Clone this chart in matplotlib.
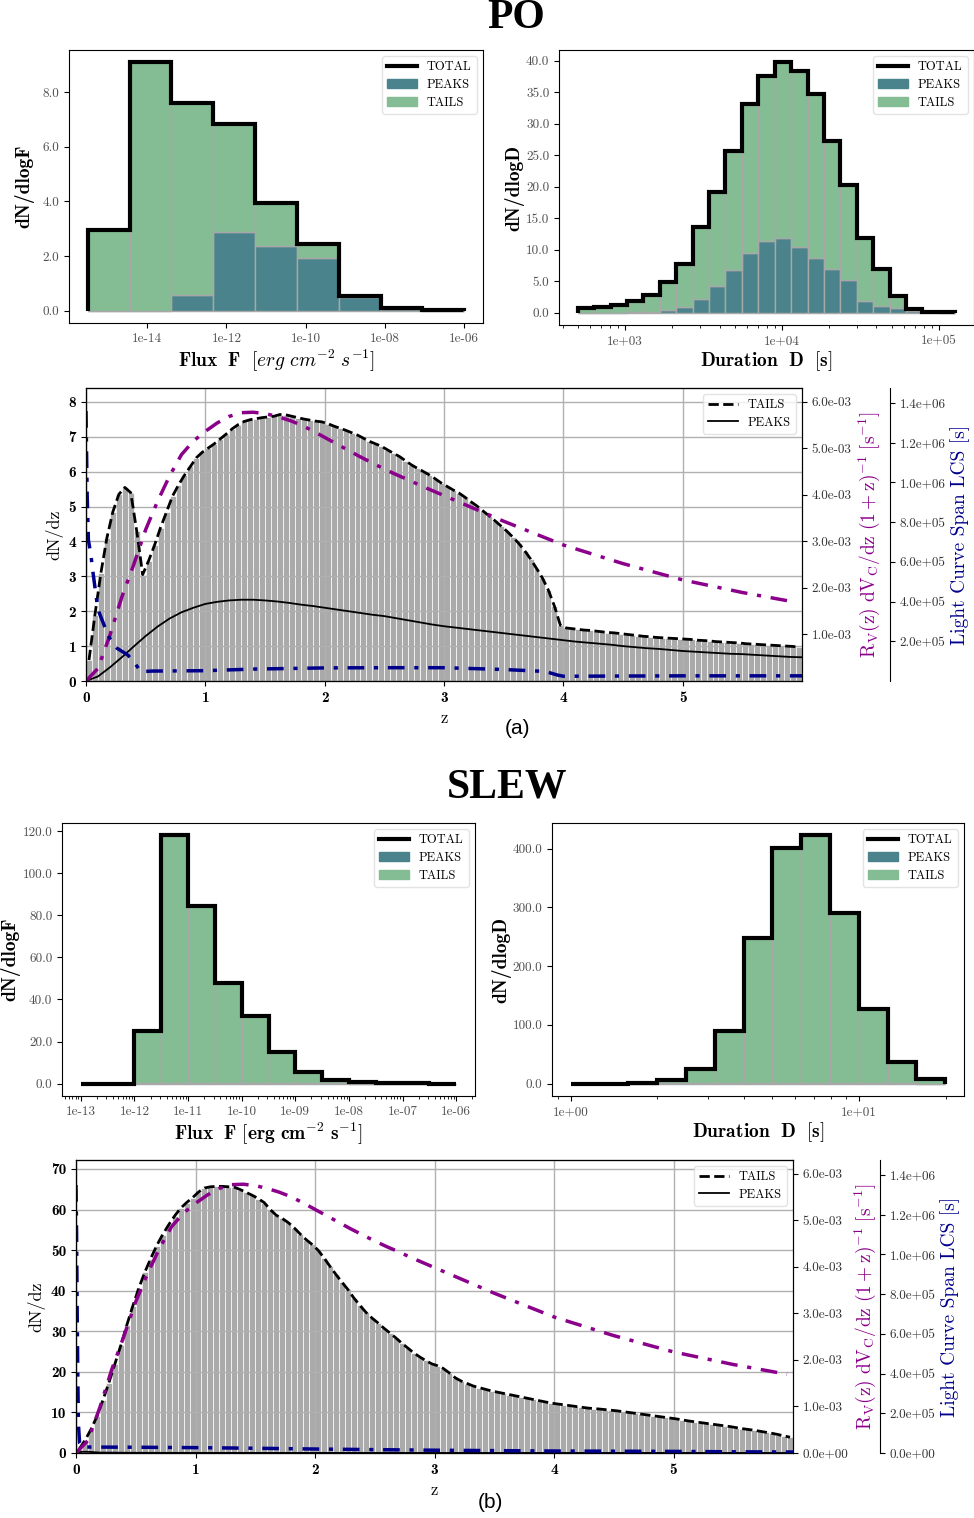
import numpy as np
import matplotlib
matplotlib.use('Agg')
import matplotlib.pyplot as plt
from matplotlib.ticker import FixedLocator, FuncFormatter, LogLocator, NullLocator, NullFormatter
from matplotlib.patches import Patch
from matplotlib.lines import Line2D

plt.rcParams['font.family'] = ['cmr10', 'DejaVu Serif']
plt.rcParams['mathtext.fontset'] = 'cm'
plt.rcParams['axes.unicode_minus'] = False
plt.rcParams['axes.formatter.use_mathtext'] = True

# ---------------- DATA ----------------
# PO flux histogram (log10 F bin edges)
po_flux_edges_log = np.linspace(-15.5, -6.0, 10)
po_flux_total = [2.95, 9.09, 7.60, 6.84, 3.94, 2.44, 0.55, 0.10, 0.01]
po_flux_peaks = [0.0, 0.0, 0.57, 2.89, 2.38, 1.94, 0.50, 0.06, 0.0]

# PO duration histogram (log10 D bin edges)
po_dur_edges_log = np.linspace(2.698, 5.104, 24)
po_dur_total = [0.64, 0.85, 1.27, 1.90, 2.80, 4.77, 7.68, 13.5, 19.07, 25.6, 33.1, 37.5,
                39.7, 38.3, 34.75, 27.3, 20.3, 11.87, 6.83, 2.60, 0.48, 0.05, 0.02]
po_dur_peaks = [0.0, 0.0, 0.0, 0.05, 0.10, 0.37, 0.80, 2.22, 4.24, 6.73, 9.38, 11.39,
                11.87, 10.33, 8.58, 6.89, 5.14, 1.90, 1.11, 0.64, 0.21, 0.02, 0.0]

# SLEW flux histogram
slew_flux_edges_log = np.linspace(-13.0, -6.0, 15)
slew_flux_total = [0.0, 0.0, 24.9, 118.0, 84.5, 47.7, 31.9, 15.1, 5.5, 1.7, 0.9, 0.5, 0.1, 0.0]
slew_flux_peaks = [0.0, 0.0, 0.3, 0.4, 0.4, 0.3, 0.3, 0.2, 0.2, 0.1, 0.0, 0.0, 0.0, 0.0]

# SLEW duration histogram
slew_dur_edges_log = np.linspace(0.0, 1.3, 14)
slew_dur_total = [0.0, 0.0, 1.7, 5.6, 24.3, 90.4, 247.5, 401.7, 422.6, 291.0, 127.0, 37.3, 8.5]
slew_dur_peaks = [0.0, 0.0, 0.0, 0.5, 0.5, 0.6, 0.6, 0.6, 0.6, 0.5, 0.3, 0.2, 0.0]

# redshift bins
z_edges = np.linspace(0.0, 6.0, 121)

# PO dN/dz (tails)
po_tails_dndz = [
    0.6, 1.9, 3.1, 4.1, 4.85, 5.35, 5.55, 5.4, 4.3, 3.05,
    3.45, 3.9, 4.4, 4.85, 5.3, 5.62, 5.9, 6.15, 6.4, 6.56,
    6.68, 6.8, 6.94, 7.08, 7.23, 7.35, 7.44, 7.49, 7.52, 7.55,
    7.57, 7.59, 7.64, 7.63, 7.59, 7.55, 7.51, 7.48, 7.45, 7.43,
    7.38, 7.31, 7.25, 7.19, 7.12, 7.05, 6.96, 6.87, 6.8, 6.73,
    6.63, 6.53, 6.44, 6.32, 6.2, 6.1, 6.01, 5.91, 5.8, 5.68,
    5.58, 5.48, 5.39, 5.27, 5.14, 5.02, 4.88, 4.74, 4.6, 4.45,
    4.3, 4.13, 3.95, 3.74, 3.5, 3.23, 2.95, 2.6, 2.15, 1.6,
    1.52, 1.5, 1.48, 1.46, 1.45, 1.43, 1.41, 1.39, 1.38, 1.36,
    1.34, 1.32, 1.3, 1.28, 1.27, 1.25, 1.24, 1.23, 1.22, 1.21,
    1.2, 1.19, 1.17, 1.16, 1.15, 1.13, 1.12, 1.11, 1.1, 1.09,
    1.07, 1.06, 1.05, 1.04, 1.03, 1.02, 1.01, 1.0, 0.99, 0.97]

# PO peaks dN/dz curve
po_peaks_z = [0.0, 0.1, 0.2, 0.3, 0.4, 0.5, 0.6, 0.7, 0.8, 0.9, 1.0, 1.1, 1.2, 1.3, 1.4, 1.5,
              1.6, 1.7, 1.8, 1.9, 2.0, 2.1, 2.2, 2.3, 2.4, 2.5, 2.6, 2.7, 2.8, 2.9, 3.0,
              3.1, 3.2, 3.3, 3.4, 3.5, 3.6, 3.7, 3.8, 3.9, 4.0, 4.1, 4.2, 4.3, 4.4, 4.5,
              4.6, 4.7, 4.8, 4.9, 5.0, 5.1, 5.2, 5.3, 5.4, 5.5, 5.6, 5.7, 5.8, 5.9, 6.0]
po_peaks_dndz = [0.00, 0.13, 0.39, 0.68, 0.99, 1.29, 1.56, 1.79, 1.97, 2.10, 2.21, 2.27, 2.31,
                 2.33, 2.33, 2.31, 2.28, 2.24, 2.19, 2.15, 2.10, 2.05, 2.00, 1.95, 1.90, 1.86,
                 1.80, 1.74, 1.68, 1.62, 1.57, 1.53, 1.49, 1.45, 1.41, 1.37, 1.33, 1.29, 1.25,
                 1.21, 1.17, 1.13, 1.10, 1.07, 1.04, 1.00, 0.97, 0.94, 0.92, 0.89, 0.86, 0.84,
                 0.82, 0.80, 0.78, 0.77, 0.75, 0.73, 0.71, 0.69, 0.68]

# Rv(z) dVc/dz (1+z)^-1  [1e-3 s^-1]
rv_z = [0.0, 0.1, 0.2, 0.3, 0.4, 0.5, 0.6, 0.7, 0.8, 0.9, 1.0, 1.1, 1.2, 1.3, 1.4, 1.5,
        1.6, 1.7, 1.8, 1.9, 2.0, 2.1, 2.2, 2.3, 2.4, 2.5, 2.6, 2.7, 2.8, 2.9, 3.0,
        3.5, 4.0, 4.5, 5.0, 5.5, 5.95]
rv_val_e3 = [0.00, 0.27, 0.98, 1.80, 2.50, 3.25, 3.86, 4.40, 4.86, 5.15, 5.36, 5.54, 5.68,
             5.76, 5.77, 5.74, 5.68, 5.60, 5.50, 5.37, 5.23, 5.09, 4.95, 4.81, 4.68, 4.55,
             4.43, 4.32, 4.20, 4.09, 3.98, 3.43, 2.92, 2.52, 2.17, 1.90, 1.69]

# PO light curve span
po_lcs_z = [0.0, 0.01, 0.02, 0.04, 0.06, 0.10, 0.19, 0.26, 0.35, 0.40, 0.46,
            0.55, 1.0, 1.4, 2.0, 2.5, 3.0, 3.5, 3.85, 3.95, 4.0, 4.5, 5.0, 5.5, 6.0]
po_lcs = [1.36e6, 9.3e5, 7.1e5, 6.4e5, 5.4e5, 3.6e5, 2.23e5, 1.65e5, 1.31e5, 9.7e4, 4.7e4,
          5.0e4, 5.2e4, 6.0e4, 6.6e4, 6.7e4, 6.7e4, 5.8e4, 4.8e4, 3.0e4,
          2.4e4, 2.5e4, 2.6e4, 2.6e4, 2.6e4]

# SLEW dN/dz (tails)
slew_tails_dndz = [
    0.9, 3.1, 5.8, 9.0, 13.0, 17.3, 21.9, 26.5, 31.5, 36.2,
    40.6, 44.5, 47.9, 51.1, 53.8, 56.2, 58.4, 60.3, 61.7, 62.9,
    64.3, 65.3, 65.6, 65.7, 65.7, 65.6, 65.5, 64.9, 64.2, 63.5,
    62.7, 61.7, 60.0, 58.6, 57.8, 56.8, 55.5, 54.0, 52.6, 51.4,
    50.0, 48.1, 46.0, 44.0, 42.1, 40.3, 38.2, 36.4, 34.7, 33.3,
    32.1, 30.8, 29.6, 28.4, 27.1, 25.9, 24.7, 23.7, 22.8, 22.0,
    21.5, 20.8, 19.7, 18.5, 17.7, 17.1, 16.5, 16.1, 15.7, 15.3,
    15.0, 14.7, 14.4, 14.1, 13.8, 13.5, 13.2, 12.9, 12.6, 12.3,
    12.1, 11.9, 11.7, 11.5, 11.3, 11.1, 10.95, 10.85, 10.7, 10.55,
    10.4, 10.2, 10.0, 9.8, 9.6, 9.4, 9.2, 9.0, 8.8, 8.6,
    8.4, 8.15, 7.9, 7.7, 7.5, 7.3, 7.1, 6.9, 6.7, 6.5,
    6.25, 6.0, 5.8, 5.6, 5.35, 5.1, 4.85, 4.55, 4.2, 3.9]

slew_peaks_z = [0.0, 0.05, 0.1, 0.15, 0.2, 0.5, 1.0, 2.0, 3.0, 4.0, 5.0, 6.0]
slew_peaks_dndz = [0.0, 0.3, 0.3, 0.2, 0.1, 0.05, 0.03, 0.02, 0.01, 0.01, 0.01, 0.0]

slew_lcs_z = [0.0, 0.005, 0.01, 0.015, 0.02, 0.03, 0.05, 0.1, 0.5, 1.0, 1.5, 2.0, 2.5, 3.0,
              3.5, 4.0, 4.5, 5.0, 5.5, 6.0]
slew_lcs = [1.35e6, 1.1e6, 7e5, 4e5, 1.5e5, 5e4, 3.0e4, 3.0e4, 2.9e4, 2.7e4, 2.4e4, 2.0e4,
            1.7e4, 1.4e4, 1.2e4, 1.0e4, 0.9e4, 0.8e4, 0.6e4, 0.5e4]

# ---------------- STYLE ----------------
C_PEAK = '#4a838c'
C_TAIL = '#84bd93'
C_EDGE = '#a8a8a8'
C_PURPLE = '#8b008b'
C_NAVY = '#00008b'
TICKGREY = '#505050'
DASHDOT = (0, (4.8, 2.8, 1.2, 2.8))

W, H = 974, 1518
fig = plt.figure(figsize=(W / 100, H / 100), dpi=100)


def px_axes(left, top, right, bottom):
    return fig.add_axes([left / W, 1 - bottom / H, (right - left) / W, (bottom - top) / H])


exp_fmt = FuncFormatter(lambda v, p: f"{v:.0e}")


def hist_panel(ax, edges_log, total, peaks, major_exps, minor, ylabel, xlabel, yticks,
               ylabelpad=4.0):
    edges_log = np.asarray(edges_log)
    edges = 10.0 ** edges_log
    total = np.asarray(total)
    peaks = np.asarray(peaks)
    tails = np.clip(total - peaks, 0, None)
    left = edges[:-1]
    width = np.diff(edges)
    ax.bar(left, peaks, width=width, align='edge', color=C_PEAK, edgecolor=C_EDGE, linewidth=1.0)
    ax.bar(left, tails, width=width, bottom=peaks, align='edge', color=C_TAIL,
           edgecolor=C_EDGE, linewidth=1.0)
    ax.stairs(total, edges, color='k', linewidth=3.0)
    ax.set_xscale('log')
    lo, hi = edges_log[0], edges_log[-1]
    pad = 0.05 * (hi - lo)
    ax.set_xlim(10 ** (lo - pad), 10 ** (hi + pad))
    ym = total.max()
    ax.set_ylim(-0.05 * ym, 1.05 * ym)
    ax.xaxis.set_major_locator(FixedLocator([10.0 ** e for e in major_exps]))
    ax.xaxis.set_major_formatter(exp_fmt)
    if minor:
        ax.xaxis.set_minor_locator(LogLocator(base=10, subs=np.arange(2, 10), numticks=50))
    else:
        ax.xaxis.set_minor_locator(NullLocator())
    ax.xaxis.set_minor_formatter(NullFormatter())
    ax.set_yticks(yticks)
    ax.yaxis.set_major_formatter(FuncFormatter(lambda v, p: f"{v:.1f}"))
    ax.tick_params(labelsize=9.5, labelcolor=TICKGREY)
    ax.set_ylabel(ylabel, fontfamily='cmb10', fontsize=14, labelpad=ylabelpad)
    ax.set_xlabel(xlabel, fontsize=14, labelpad=2)
    handles = [Line2D([], [], color='k', lw=3), Patch(color=C_PEAK), Patch(color=C_TAIL)]
    ax.legend(handles, ['TOTAL', 'PEAKS', 'TAILS'], loc='upper right', fontsize=9,
              handlelength=2.4, borderpad=0.4, labelspacing=0.45, edgecolor='#dddddd')


def z_panel(ax, tails, pk_z, pk_v, lcs_z, lcs_v, ymax, yticks, rv_ticks, lcs_ticks, outward):
    tails = np.asarray(tails)
    centres = 0.5 * (z_edges[:-1] + z_edges[1:])
    ax.bar(z_edges[:-1], tails, width=np.diff(z_edges), align='edge', color='#aaaaaa',
           edgecolor='white', linewidth=0.5, zorder=1)
    ax.plot(centres, tails, color='k', linestyle='--', linewidth=2.0, label='TAILS', zorder=3)
    ax.plot(pk_z, pk_v, color='k', lw=1.3, label='PEAKS', zorder=3)
    ax.set_xlim(0, 6)
    ax.set_ylim(0, ymax)
    ax.grid(True, color='#b0b0b0', lw=1.0)
    ax.set_xticks(range(6), [str(i) for i in range(6)], fontfamily='cmb10', fontsize=11)
    ax.set_yticks(yticks, [str(v) for v in yticks], fontfamily='cmb10', fontsize=11)
    ax.set_xlabel('z', fontsize=12, labelpad=4)
    ax.set_ylabel('dN/dz', fontsize=13)
    ax.legend(loc='upper right', fontsize=9, handlelength=2.4, borderpad=0.4,
              labelspacing=0.4, edgecolor='#dddddd')

    ax2 = ax.twinx()
    ax2.plot(rv_z, np.asarray(rv_val_e3) * 1e-3, color=C_PURPLE, lw=2.5, linestyle=DASHDOT)
    ax2.set_ylim(0, 6.29e-3)
    ax2.set_yticks(rv_ticks)
    ax2.yaxis.set_major_formatter(FuncFormatter(lambda v, p: f"{v:.1e}"))
    ax2.tick_params(labelsize=9.5, labelcolor='#333333')
    ax2.set_ylabel(r'$\mathrm{R_V(z)\ dV_C/dz\ (1+z)^{-1}\ [s^{-1}]}$', color=C_PURPLE,
                   fontsize=14, labelpad=3)

    ax3 = ax.twinx()
    ax3.spines['right'].set_position(('outward', outward))
    ax3.plot(lcs_z, lcs_v, color=C_NAVY, lw=2.5, linestyle=DASHDOT)
    ax3.set_ylim(0, 1.476e6)
    ax3.set_yticks(lcs_ticks)
    ax3.yaxis.set_major_formatter(FuncFormatter(lambda v, p: f"{v:.1e}"))
    ax3.tick_params(labelsize=9.5, labelcolor='#333333')
    ax3.set_ylabel('Light Curve Span LCS [s]', color=C_NAVY, fontsize=14, labelpad=3)
    ax3.set_xlim(0, 6)
    ax2.set_xlim(0, 6)


# ---------------- PO ----------------
fig.text(516 / W, 1 - 18 / H, 'PO', ha='center', va='center', fontsize=30,
         fontfamily='Liberation Serif', fontweight='bold')

ax = px_axes(69, 50, 483, 323)
hist_panel(ax, po_flux_edges_log, po_flux_total, po_flux_peaks, [-14, -12, -10, -8, -6], False,
           'dN/dlogF', r'$\mathbf{Flux\ \ F}\ \ [erg\ cm^{-2}\ s^{-1}]$', [0, 2, 4, 6, 8],
           ylabelpad=6)

ax = px_axes(559, 50, 974, 325)
hist_panel(ax, po_dur_edges_log, po_dur_total, po_dur_peaks, [3, 4, 5], True,
           'dN/dlogD', r'$\mathbf{Duration\ \ D\ \ [s]}$', [0, 5, 10, 15, 20, 25, 30, 35, 40],
           ylabelpad=1)

ax = px_axes(86, 388, 802, 681)
z_panel(ax, po_tails_dndz, po_peaks_z, po_peaks_dndz, po_lcs_z, po_lcs, 8.4,
        list(range(0, 9)), [1e-3, 2e-3, 3e-3, 4e-3, 5e-3, 6e-3],
        [2e5, 4e5, 6e5, 8e5, 1e6, 1.2e6, 1.4e6], 88 * 0.72)

fig.text(518 / W, 1 - 729 / H, '(a)', ha='center', va='center', fontsize=15,
         fontfamily='Liberation Sans')

# ---------------- SLEW ----------------
fig.text(507 / W, 1 - 788 / H, 'SLEW', ha='center', va='center', fontsize=30,
         fontfamily='Liberation Serif', fontweight='bold')

ax = px_axes(62, 823, 475, 1096)
hist_panel(ax, slew_flux_edges_log, slew_flux_total, slew_flux_peaks,
           [-13, -12, -11, -10, -9, -8, -7, -6], True,
           'dN/dlogF', r'$\mathbf{Flux\ \ F\ [erg\ cm^{-2}\ s^{-1}]}$',
           [0, 20, 40, 60, 80, 100, 120], ylabelpad=1.5)

ax = px_axes(552, 823, 964, 1096)
hist_panel(ax, slew_dur_edges_log, slew_dur_total, slew_dur_peaks, [0, 1], True,
           'dN/dlogD', r'$\mathbf{Duration\ \ D\ \ [s]}$', [0, 100, 200, 300, 400],
           ylabelpad=1)

ax = px_axes(76, 1160, 793, 1453)
z_panel(ax, slew_tails_dndz, slew_peaks_z, slew_peaks_dndz, slew_lcs_z, slew_lcs, 72.2,
        [0, 10, 20, 30, 40, 50, 60, 70], [0, 1e-3, 2e-3, 3e-3, 4e-3, 5e-3, 6e-3],
        [0, 2e5, 4e5, 6e5, 8e5, 1e6, 1.2e6, 1.4e6], 87 * 0.72)

fig.text(490 / W, 1 - 1502 / H, '(b)', ha='center', va='center', fontsize=15,
         fontfamily='Liberation Sans')

fig.savefig('out.png', dpi=100)
